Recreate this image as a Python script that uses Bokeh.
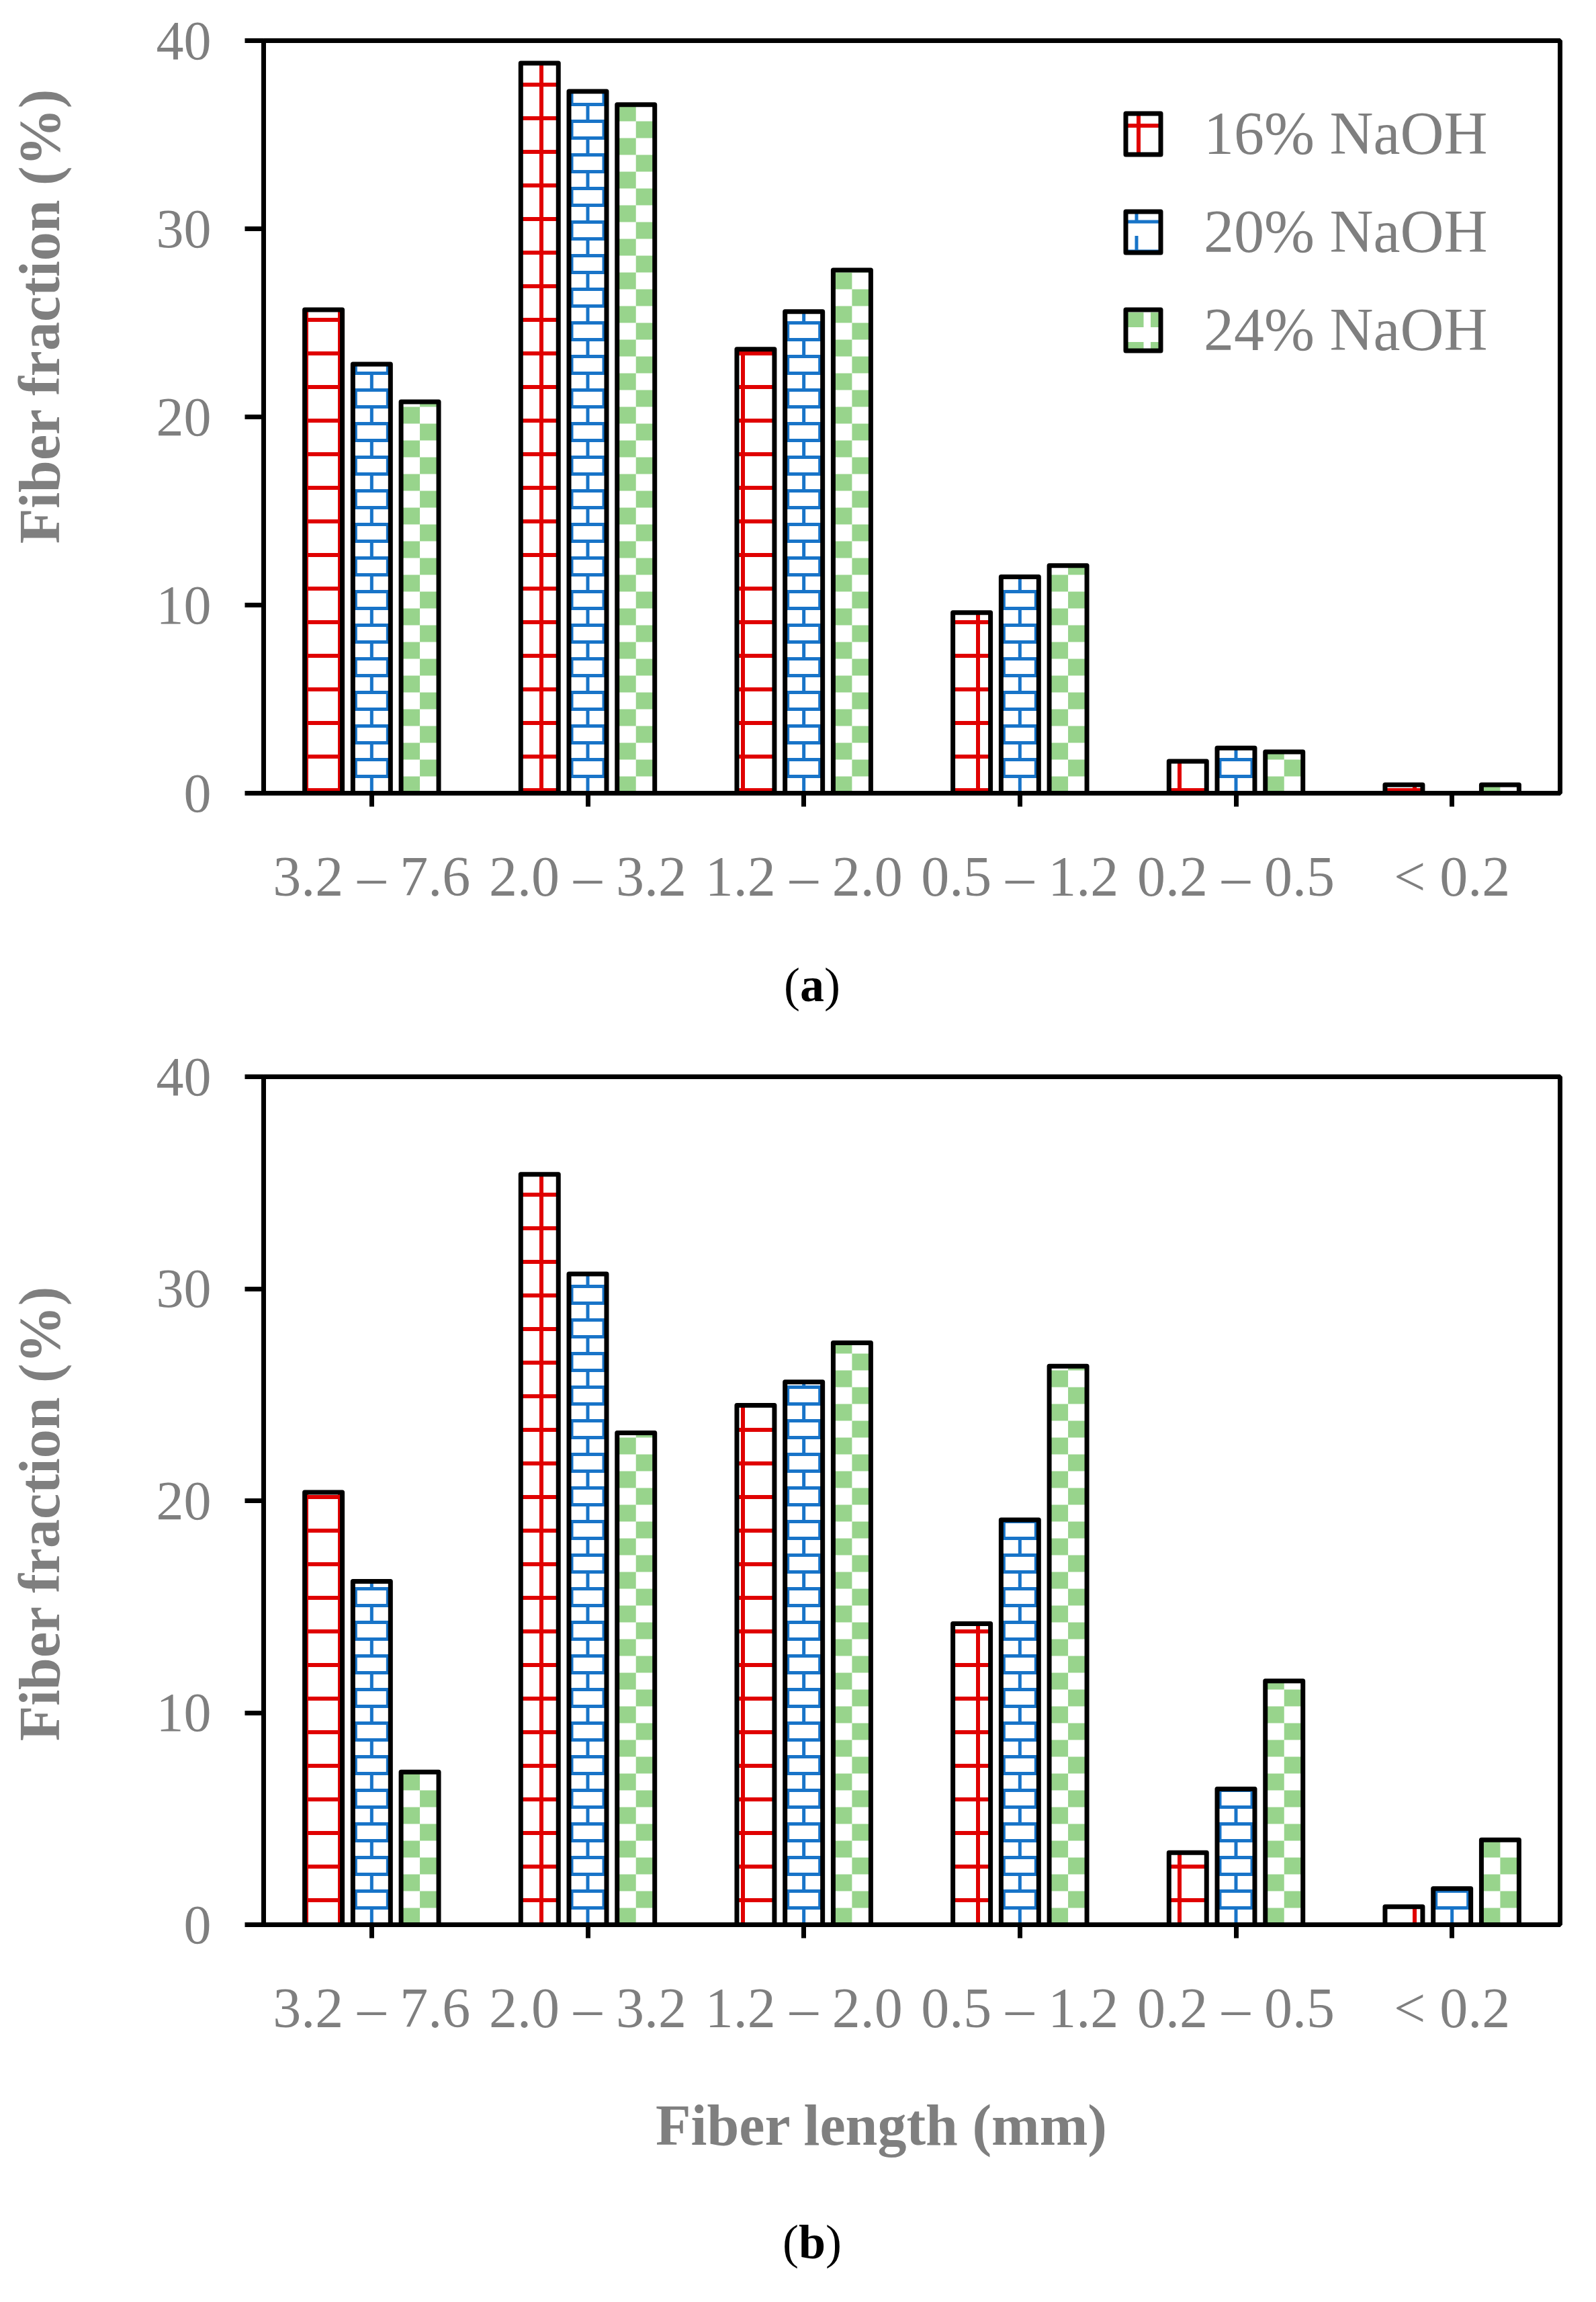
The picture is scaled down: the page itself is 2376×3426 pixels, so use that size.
import math

from bokeh.plotting import figure
from bokeh.models import (ColumnDataSource, Range1d, FactorRange, Div, Legend,
                          LegendItem)
from bokeh.transform import dodge
from bokeh.layouts import column, row
from bokeh.embed import file_html
from bokeh.resources import INLINE

# --- data ---
lengths = ["3.2 \u2013 7.6", "2.0 \u2013 3.2", "1.2 \u2013 2.0",
           "0.5 \u2013 1.2", "0.2 \u2013 0.5", "< 0.2"]
series = ["16% NaOH", "20% NaOH", "24% NaOH"]

a_16 = [25.7, 38.8, 23.6, 9.6, 1.7, 0.45]
a_20 = [22.8, 37.3, 25.6, 11.5, 2.4, 0.0]
a_24 = [20.8, 36.6, 27.8, 12.1, 2.2, 0.45]

b_16 = [20.4, 35.4, 24.5, 14.2, 3.4, 0.85]
b_20 = [16.2, 30.7, 25.6, 19.1, 6.4, 1.7]
b_24 = [7.2, 23.2, 27.45, 26.35, 11.5, 4.0]

y_ticks = [0, 10, 20, 30, 40]

FONT = "Liberation Serif"
GRAY = "#7f7f7f"
RED = "#e00000"
BLUE = "#1874c8"
GREEN = "#98d48c"

BAR_W = 0.174      # bar width in category units
OFF = 0.223        # dodge between bars
FRAME_W = 1930
CELL_PX = 25       # brick row / checker cell size in pixels
LAB_W = 130        # width of the column that holds the y label


def brick_source(vals, off, row_h, brick_half):
    x0, x1, y0, y1 = [], [], [], []
    hw = BAR_W / 2
    for cat, v in zip(lengths, vals):
        n = int(math.ceil(v / row_h)) if v > 0 else 0
        for k in range(n):
            lo, hi = k * row_h, min(v, (k + 1) * row_h)
            if hi < v:  # mortar line on top of this row
                x0.append((cat, off - hw)); x1.append((cat, off + hw))
                y0.append(hi); y1.append(hi)
            joints = [off] if k % 2 == 0 else [off - brick_half, off + brick_half]
            for jx in joints:
                x0.append((cat, jx)); x1.append((cat, jx))
                y0.append(lo); y1.append(hi)
    return ColumnDataSource(data=dict(x0=x0, x1=x1, y0=y0, y1=y1))


def checker_source(vals, off, row_h):
    left, right, bottom, top = [], [], [], []
    hw = BAR_W / 2
    for cat, v in zip(lengths, vals):
        n = int(math.ceil(v / row_h)) if v > 0 else 0
        for k in range(n):
            lo, hi = k * row_h, min(v, (k + 1) * row_h)
            if k % 2 == 0:
                left.append((cat, off - hw)); right.append((cat, off))
            else:
                left.append((cat, off)); right.append((cat, off + hw))
            bottom.append(lo); top.append(hi)
    return ColumnDataSource(data=dict(left=left, right=right, bottom=bottom, top=top))


def make_panel(v16, v20, v24, height, border_top, frame_h, legend=False):
    p = figure(x_range=FactorRange(*lengths), y_range=Range1d(0, 40),
               width=2360 - LAB_W, height=height,
               min_border_left=392 - LAB_W, min_border_right=38,
               min_border_top=border_top, min_border_bottom=200,
               output_backend="svg", toolbar_location=None,
               outline_line_color="black", outline_line_width=7,
               background_fill_color="white", border_fill_color="white")

    row_h = CELL_PX / (frame_h / 40.0)
    brick_half = 24 / (FRAME_W / 6.0)

    src = ColumnDataSource(data=dict(length=lengths, s16=v16, s20=v20, s24=v24))
    x16 = dodge("length", -OFF, range=p.x_range)
    x20 = dodge("length", 0.0, range=p.x_range)
    x24 = dodge("length", OFF, range=p.x_range)
    outline = dict(width=BAR_W, bottom=0, source=src, fill_color=None,
                   line_color="black", line_width=7, line_join="round")

    # 16%: red grid hatch
    r16 = p.vbar(x=x16, top="s16", width=BAR_W, bottom=0, source=src,
                 fill_color="white", hatch_pattern="+", hatch_color=RED,
                 hatch_scale=50, hatch_weight=6,
                 line_color="black", line_width=7, line_join="round")

    # 20%: blue brick
    p.vbar(x=x20, top="s20", width=BAR_W, bottom=0, source=src,
           fill_color="white", line_color=None)
    p.segment(x0="x0", y0="y0", x1="x1", y1="y1",
              source=brick_source(v20, 0.0, row_h, brick_half),
              line_color=BLUE, line_width=5)
    p.vbar(x=x20, top="s20", **outline)

    # 24%: green checker
    p.vbar(x=x24, top="s24", width=BAR_W, bottom=0, source=src,
           fill_color="white", line_color=None)
    p.quad(left="left", right="right", bottom="bottom", top="top",
           source=checker_source(v24, OFF, row_h), fill_color=GREEN, line_color=None)
    p.vbar(x=x24, top="s24", **outline)

    p.xgrid.visible = False
    p.ygrid.visible = False

    p.axis.axis_line_width = 7
    p.axis.major_tick_line_width = 7
    p.axis.minor_tick_line_color = None
    p.axis.major_tick_in = 0
    p.axis.major_label_text_font = FONT
    p.axis.major_label_text_color = GRAY

    p.yaxis.ticker = y_ticks
    p.yaxis.major_tick_out = 28
    p.yaxis.major_label_standoff = 50
    p.yaxis.major_label_text_font_size = "82px"

    p.xaxis.major_tick_out = 20
    p.xaxis.major_label_standoff = 57
    p.xaxis.major_label_text_font_size = "84px"

    if legend:
        # zero-height stand-ins that only carry the legend swatches
        d20a = p.vbar(x=x20, top=0, bottom=0, width=BAR_W, source=src,
                      fill_color="white", hatch_pattern="-", hatch_color=BLUE,
                      hatch_scale=44, hatch_weight=5, line_color=None)
        d20b = p.vbar(x=x20, top=0, bottom=0, width=BAR_W, source=src,
                      fill_color=None, hatch_pattern=":", hatch_color=BLUE,
                      hatch_scale=44, hatch_weight=5,
                      line_color="black", line_width=7, line_join="round")
        d24 = p.vbar(x=x24, top=0, bottom=0, width=BAR_W, source=src,
                     fill_color="white", hatch_pattern='"', hatch_color=GREEN,
                     hatch_scale=44, hatch_weight=22,
                     line_color="black", line_width=7, line_join="round")
        leg = Legend(items=[LegendItem(label=series[0], renderers=[r16]),
                            LegendItem(label=series[1], renderers=[d20a, d20b]),
                            LegendItem(label=series[2], renderers=[d24])],
                     location=(1277, 638), padding=0, margin=0,
                     glyph_width=65, glyph_height=76, label_standoff=58, spacing=43,
                     label_text_font=FONT, label_text_font_size="90px",
                     label_text_color=GRAY, border_line_color=None,
                     background_fill_alpha=0)
        p.add_layout(leg)
    return p


def caption(letter, height, line):
    html = ('<div style="box-sizing:border-box;width:2360px;height:%dpx;line-height:%dpx;'
            'padding-left:58px;text-align:center;font-family:\'Liberation Serif\';'
            'font-size:72px;color:black;">(<b>%s</b>)</div>' % (height, line, letter))
    return Div(text=html, width=2360, height=height, margin=0)


def side_label(text, height, cx, cy):
    html = ('<div style="position:relative;width:%dpx;height:%dpx;">'
            '<div style="position:absolute;left:%dpx;top:%dpx;'
            'transform:translate(-50%%,-50%%) rotate(-90deg);white-space:nowrap;'
            'font-family:\'Liberation Serif\';font-size:86px;font-weight:bold;'
            'line-height:1.15;color:%s;">%s</div></div>' % (LAB_W, height, cx, cy, GRAY, text))
    return Div(text=html, width=LAB_W, height=height, margin=0)


def bottom_label(text, height, line, pad_left):
    html = ('<div style="box-sizing:border-box;width:2360px;height:%dpx;line-height:%dpx;'
            'padding-left:%dpx;text-align:center;white-space:nowrap;'
            'font-family:\'Liberation Serif\';font-size:86px;font-weight:bold;'
            'color:%s;">%s</div>' % (height, line, pad_left, GRAY, text))
    return Div(text=html, width=2360, height=height, margin=0)


pa = make_panel(a_16, a_20, a_24, height=1380, border_top=60, frame_h=1120, legend=True)
ylab_a = side_label("Fiber fraction (%)", 1380, 59, 471)

pb = make_panel(b_16, b_20, b_24, height=1512, border_top=50, frame_h=1262)
ylab_b = side_label("Fiber fraction (%)", 1512, 59, 701)
xlab_b = bottom_label("Fiber length (mm)", 180, 198, 264)

layout = column(row(ylab_a, pa, spacing=0), caption("a", 172, 172),
                row(ylab_b, pb, spacing=0), xlab_b, caption("b", 160, 186),
                spacing=0)

open("out.html", "w").write(file_html(layout, INLINE))
